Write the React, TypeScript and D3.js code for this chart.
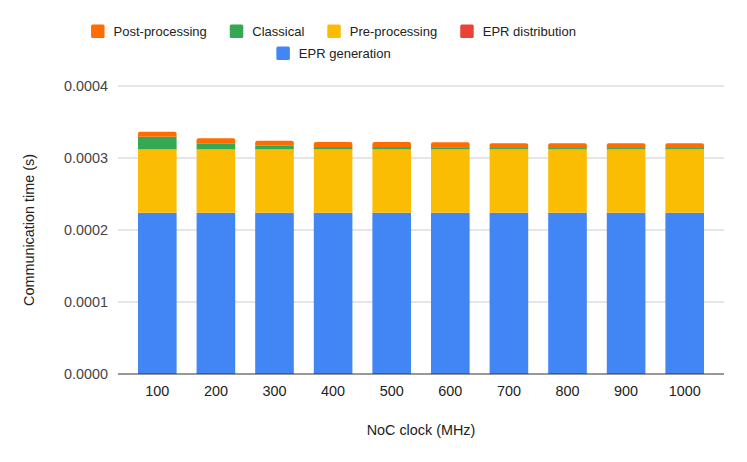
import { useEffect, useRef } from "react";
import * as d3 from "d3";

const clocks = ["100", "200", "300", "400", "500", "600", "700", "800", "900", "1000"];
const eprGeneration = [0.000224, 0.000224, 0.000224, 0.000224, 0.000224, 0.000224, 0.000224, 0.000224, 0.000224, 0.000224];
const eprDistribution = [0, 0, 0, 0, 0, 0, 0, 0, 0, 0];
const preProcessing = [0.000088, 0.000088, 0.000088, 0.000088, 0.000088, 0.000088, 0.000088, 0.000088, 0.000088, 0.000088];
const classical = [0.0000175, 0.0000083, 0.000005, 0.0000032, 0.0000032, 0.000003, 0.0000018, 0.0000018, 0.0000018, 0.0000018];
const postProcessing = [0.0000069, 0.0000073, 0.000007, 0.000007, 0.000007, 0.000007, 0.0000066, 0.0000066, 0.0000066, 0.0000066];
const yTicks = [0, 0.0001, 0.0002, 0.0003, 0.0004];

const series = [
  { name: "EPR generation", values: eprGeneration, color: "#4285f4" },
  { name: "EPR distribution", values: eprDistribution, color: "#ea4335" },
  { name: "Pre-processing", values: preProcessing, color: "#fbbc04" },
  { name: "Classical", values: classical, color: "#34a853" },
  { name: "Post-processing", values: postProcessing, color: "#ff6d01" },
];

const FONT = "Arial, 'Liberation Sans', sans-serif";

const App = () => {
  const ref = useRef<SVGSVGElement | null>(null);

  useEffect(() => {
    if (!ref.current) return;
    const svg = d3.select(ref.current);
    svg.selectAll("*").remove();

    const width = 747;
    const height = 462;
    const margin = { top: 86, right: 23, bottom: 88, left: 118 };

    const x = d3
      .scaleBand()
      .domain(clocks)
      .range([margin.left, width - margin.right])
      .padding(0.341);

    const y = d3
      .scaleLinear()
      .domain([0, 0.0004])
      .range([height - margin.bottom, margin.top]);

    // gridlines
    svg.append("g")
      .selectAll("line")
      .data(yTicks.slice(1))
      .join("line")
      .attr("x1", margin.left)
      .attr("x2", width - margin.right)
      .attr("y1", d => y(d))
      .attr("y2", d => y(d))
      .attr("stroke", "#cccccc")
      .attr("stroke-width", 1);

    // y tick labels
    svg.append("g")
      .selectAll("text")
      .data(yTicks)
      .join("text")
      .attr("x", margin.left - 10)
      .attr("y", d => y(d))
      .attr("dy", "0.35em")
      .attr("text-anchor", "end")
      .attr("font-family", FONT)
      .attr("font-size", 14.4)
      .attr("fill", "#444444")
      .text(d => d.toFixed(4));

    // stacked bars
    const rows = clocks.map((c, i) => {
      const r: Record<string, number | string> = { clock: c };
      series.forEach(s => (r[s.name] = s.values[i]));
      return r;
    });
    const stack = d3.stack<Record<string, number | string>>().keys(series.map(s => s.name))(rows as any);

    const topIndex = clocks.map((_, i) => {
      let top = 0;
      series.forEach((s, k) => { if (s.values[i] > 0) top = k; });
      return top;
    });

    stack.forEach((layer, k) => {
      const g = svg.append("g").attr("fill", series[k].color);
      layer.forEach((d, i) => {
        const x0 = x(clocks[i])!;
        const w = x.bandwidth();
        const y0 = y(d[0]);
        const y1 = y(d[1]);
        const h = y0 - y1;
        if (h <= 0) return;
        if (topIndex[i] === k) {
          const r = Math.min(2, h);
          g.append("path").attr(
            "d",
            `M${x0},${y0}V${y1 + r}Q${x0},${y1} ${x0 + r},${y1}H${x0 + w - r}Q${x0 + w},${y1} ${x0 + w},${y1 + r}V${y0}Z`
          );
        } else {
          g.append("rect").attr("x", x0).attr("y", y1).attr("width", w).attr("height", h);
        }
      });
    });

    // baseline
    svg.append("line")
      .attr("x1", margin.left)
      .attr("x2", width - margin.right)
      .attr("y1", y(0))
      .attr("y2", y(0))
      .attr("stroke", "#333333")
      .attr("stroke-width", 1);

    // x tick labels
    svg.append("g")
      .selectAll("text")
      .data(clocks)
      .join("text")
      .attr("x", d => x(d)! + x.bandwidth() / 2)
      .attr("y", 396)
      .attr("text-anchor", "middle")
      .attr("font-family", FONT)
      .attr("font-size", 14.4)
      .attr("fill", "#222222")
      .text(d => d);

    // axis titles
    svg.append("text")
      .attr("x", (margin.left + width - margin.right) / 2)
      .attr("y", 435)
      .attr("text-anchor", "middle")
      .attr("font-family", FONT)
      .attr("font-size", 14.4)
      .attr("fill", "#222222")
      .text("NoC clock (MHz)");

    svg.append("text")
      .attr("transform", `translate(34,${(margin.top + height - margin.bottom) / 2}) rotate(-90)`)
      .attr("text-anchor", "middle")
      .attr("font-family", FONT)
      .attr("font-size", 14.4)
      .attr("fill", "#222222")
      .text("Communication time (s)");

    // legend
    const legendRows = [
      ["Post-processing", "Classical", "Pre-processing", "EPR distribution"],
      ["EPR generation"],
    ];
    const rowBaselines = [36, 58];
    const sw = 13.5;
    const swGap = 9;
    const itemGap = 23;
    const legendCenter = 333.5;
    legendRows.forEach((names, ri) => {
      const lg = svg.append("g");
      const items = names.map(name => {
        const s = series.find(v => v.name === name)!;
        const ig = lg.append("g");
        ig.append("rect")
          .attr("y", rowBaselines[ri] - 11.5)
          .attr("width", sw)
          .attr("height", sw)
          .attr("rx", 1.5)
          .attr("fill", s.color);
        const t = ig.append("text")
          .attr("y", rowBaselines[ri])
          .attr("font-family", FONT)
          .attr("font-size", 13)
          .attr("fill", "#222222")
          .text(name);
        const tw = (t.node() as SVGTextElement).getComputedTextLength();
        return { ig, t, w: sw + swGap + tw };
      });
      const total = d3.sum(items, d => d.w) + itemGap * (items.length - 1);
      let cx = legendCenter - total / 2;
      items.forEach(it => {
        it.ig.select("rect").attr("x", cx);
        it.t.attr("x", cx + sw + swGap);
        cx += it.w + itemGap;
      });
    });
  }, []);

  return (
    <svg
      ref={ref}
      width={747}
      height={462}
      style={{ position: "absolute", left: 0, top: 0, background: "#ffffff" }}
    />
  );
};

export default App;
